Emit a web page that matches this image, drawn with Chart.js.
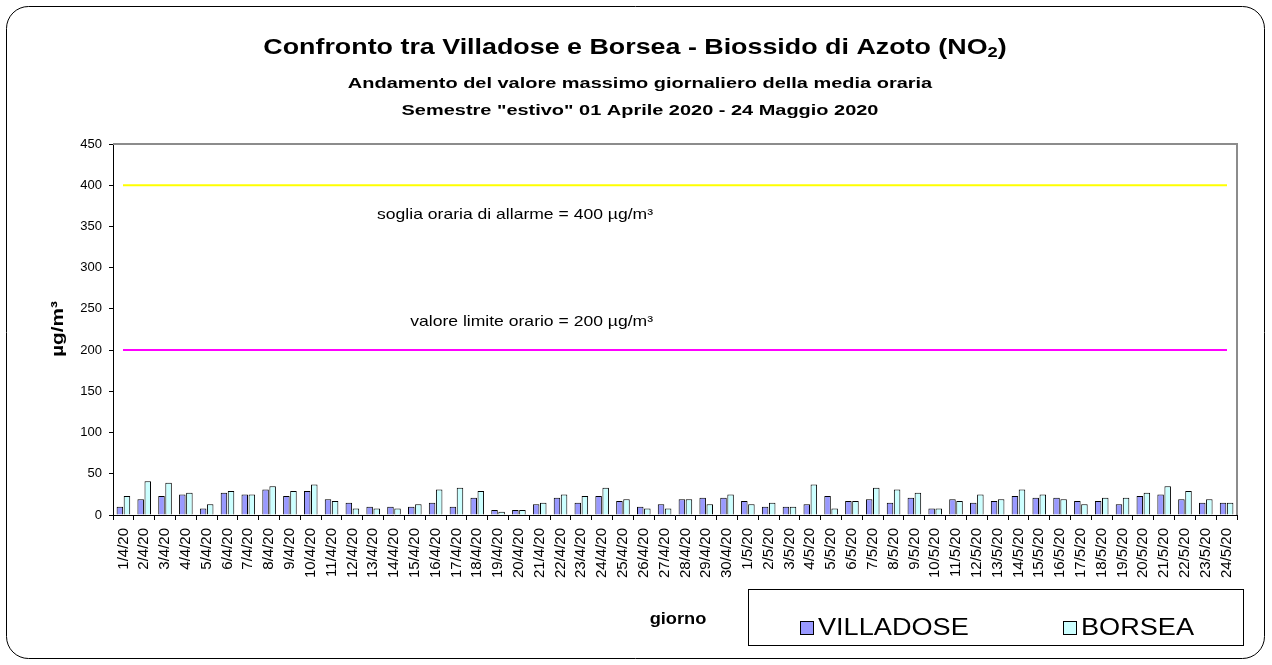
<!DOCTYPE html>
<html>
<head>
<meta charset="utf-8">
<script src="https://cdn.jsdelivr.net/npm/chart.js@4.4.0/dist/chart.umd.min.js"></script>
<style>
  html, body { margin: 0; padding: 0; background: #fff; }
  #wrap { width: 1272px; height: 665px; position: relative; }
</style>
</head>
<body>
<div id="wrap"><canvas id="chart"></canvas></div>
<script>
const days = [
    '1/4/20', '2/4/20', '3/4/20', '4/4/20', '5/4/20', '6/4/20', '7/4/20', '8/4/20', '9/4/20', '10/4/20',
    '11/4/20', '12/4/20', '13/4/20', '14/4/20', '15/4/20', '16/4/20', '17/4/20', '18/4/20', '19/4/20', '20/4/20',
    '21/4/20', '22/4/20', '23/4/20', '24/4/20', '25/4/20', '26/4/20', '27/4/20', '28/4/20', '29/4/20', '30/4/20',
    '1/5/20', '2/5/20', '3/5/20', '4/5/20', '5/5/20', '6/5/20', '7/5/20', '8/5/20', '9/5/20', '10/5/20',
    '11/5/20', '12/5/20', '13/5/20', '14/5/20', '15/5/20', '16/5/20', '17/5/20', '18/5/20', '19/5/20', '20/5/20',
    '21/5/20', '22/5/20', '23/5/20', '24/5/20'
];

const villadose = [
    10, 19, 23, 25, 8, 27, 25, 31, 23, 29,
    19, 15, 10, 10, 10, 15, 10, 21, 6, 6,
    13, 21, 15, 23, 17, 10, 13, 19, 21, 21,
    17, 10, 10, 13, 23, 17, 19, 15, 21, 8,
    19, 15, 17, 23, 21, 21, 17, 17, 13, 23,
    25, 19, 15, 15
];

const borsea = [
    23, 41, 39, 27, 13, 29, 25, 35, 29, 37,
    17, 8, 8, 8, 13, 31, 33, 29, 4, 6,
    15, 25, 23, 33, 19, 8, 8, 19, 13, 25,
    13, 15, 10, 37, 8, 17, 33, 31, 27, 8,
    17, 25, 19, 31, 25, 19, 13, 21, 21, 27,
    35, 29, 19, 15
];

const yTicks = [0, 50, 100, 150, 200, 250, 300, 350, 400, 450];

// soglie
const ALARM = 400;
const LIMIT = 200;

const FONT = "'Liberation Sans', Arial, sans-serif";

// testo allargato in orizzontale (come nell'originale)
function wideText(ctx, text, x, y, font, sx, align) {
    ctx.save();
    ctx.font = font;
    ctx.textAlign = align || 'center';
    ctx.textBaseline = 'middle';
    ctx.translate(x, y);
    ctx.scale(sx, 1);
    ctx.fillText(text, 0, 0);
    ctx.restore();
}

// titolo con il pedice di NO2
function titleText(ctx, cx, y) {
    const sx = 1.22;
    const big = 'bold 22px ' + FONT, small = 'bold 15px ' + FONT;
    const parts = [
        ['Confronto tra Villadose e Borsea - Biossido di Azoto (NO', big, 0],
        ['2', small, 5],
        [')', big, 0]
    ];
    let total = 0;
    parts.forEach(p => { ctx.font = p[1]; total += ctx.measureText(p[0]).width * sx; });
    let x = cx - total / 2;
    parts.forEach(p => {
        wideText(ctx, p[0], x, y + p[2], p[1], sx, 'left');
        ctx.font = p[1];
        x += ctx.measureText(p[0]).width * sx;
    });
}

// cornice, titoli, soglie, legenda
const decor = {
    id: 'decor',
    beforeDraw(chart) {
        const ctx = chart.ctx;
        ctx.save();
        ctx.fillStyle = '#fff';
        ctx.fillRect(0, 0, chart.width, chart.height);
        ctx.beginPath();
        ctx.roundRect(6.5, 6.5, 1258, 652, 22);
        ctx.strokeStyle = '#000';
        ctx.lineWidth = 1;
        ctx.stroke();
        ctx.restore();
    },
    beforeDatasetsDraw(chart) {
        const { ctx, chartArea: a, scales: { y } } = chart;
        ctx.save();
        // bordo grigio area grafico
        ctx.strokeStyle = '#8c8c8c';
        ctx.lineWidth = 2;
        ctx.beginPath();
        ctx.moveTo(a.left, a.top);
        ctx.lineTo(a.right, a.top);
        ctx.lineTo(a.right, a.bottom);
        ctx.stroke();

        // linee soglia
        ctx.lineWidth = 2;
        ctx.strokeStyle = '#ffff00';
        ctx.beginPath();
        ctx.moveTo(a.left + 10, y.getPixelForValue(ALARM));
        ctx.lineTo(a.right - 10, y.getPixelForValue(ALARM));
        ctx.stroke();
        ctx.strokeStyle = '#ff00ff';
        ctx.beginPath();
        ctx.moveTo(a.left + 10, y.getPixelForValue(LIMIT));
        ctx.lineTo(a.right - 10, y.getPixelForValue(LIMIT));
        ctx.stroke();

        ctx.fillStyle = '#000';
        wideText(ctx, 'soglia oraria di allarme = ' + ALARM + ' µg/m³', 653, y.getPixelForValue(ALARM) + 30, '15px ' + FONT, 1.17, 'right');
        wideText(ctx, 'valore limite orario = ' + LIMIT + ' µg/m³', 653, y.getPixelForValue(LIMIT) - 28, '15px ' + FONT, 1.17, 'right');
        ctx.restore();
    },
    afterDraw(chart) {
        const ctx = chart.ctx;
        ctx.save();
        ctx.fillStyle = '#000';
        titleText(ctx, 635, 48);
        wideText(ctx, 'Andamento del valore massimo giornaliero della media oraria', 640, 84, 'bold 15px ' + FONT, 1.33);
        wideText(ctx, 'Semestre "estivo" 01 Aprile 2020 - 24 Maggio 2020', 640, 111, 'bold 15px ' + FONT, 1.33);

        // titolo asse y
        ctx.save();
        ctx.translate(58, 329);
        ctx.rotate(-Math.PI / 2);
        wideText(ctx, 'µg/m³', 0, 0, 'bold 17px ' + FONT, 1.22);
        ctx.restore();

        // titolo asse x
        wideText(ctx, 'giorno', 678, 620, 'bold 16px ' + FONT, 1.14);

        // legenda
        ctx.strokeStyle = '#000';
        ctx.lineWidth = 1;
        ctx.strokeRect(748.5, 589.5, 495, 56);
        const items = [[800, 0], [1063, 1]];
        items.forEach(([x, i]) => {
            const ds = chart.data.datasets[i];
            ctx.fillStyle = ds.backgroundColor;
            ctx.fillRect(x, 621, 13, 13);
            ctx.strokeRect(x + 0.5, 621.5, 13, 13);
            ctx.fillStyle = '#000';
            wideText(ctx, ds.label, x + 18, 628, '24px ' + FONT, 1.13, 'left');
        });
        ctx.restore();
    }
};

new Chart(document.getElementById('chart'), {
    type: 'bar',
    data: {
        labels: days,
        datasets: [
            {
                label: 'VILLADOSE',
                data: villadose,
                backgroundColor: '#9999ff',
                borderColor: '#000',
                borderWidth: 1,
                categoryPercentage: 0.68,
                barPercentage: 0.92
            },
            {
                label: 'BORSEA',
                data: borsea,
                backgroundColor: '#ccffff',
                borderColor: '#000',
                borderWidth: 1,
                categoryPercentage: 0.68,
                barPercentage: 0.92
            }
        ]
    },
    options: {
        responsive: true,
        maintainAspectRatio: false,
        animation: false,
        layout: { padding: { top: 144, right: 35, left: 0, bottom: 0 } },
        plugins: {
            legend: { display: false },
            title: { display: false },
            tooltip: { enabled: false }
        },
        scales: {
            x: {
                afterFit: (s) => { s.height = 150; },
                grid: { drawOnChartArea: false, drawTicks: true, tickLength: 5, color: '#000', offset: true },
                border: { display: true, color: '#000', width: 1 },
                ticks: {
                    autoSkip: false,
                    minRotation: 90,
                    maxRotation: 90,
                    padding: 8,
                    color: '#000',
                    font: { family: FONT, size: 15 }
                }
            },
            y: {
                min: 0,
                max: 450,
                afterFit: (s) => { s.width = 113; },
                afterBuildTicks: (s) => { s.ticks = yTicks.map(v => ({ value: v })); },
                grid: { drawOnChartArea: false, drawTicks: true, tickLength: 4, color: '#000' },
                border: { display: true, color: '#000', width: 1 },
                ticks: {
                    padding: 7,
                    color: '#000',
                    font: { family: FONT, size: 13 }
                }
            }
        }
    },
    plugins: [decor]
});
</script>
</body>
</html>
